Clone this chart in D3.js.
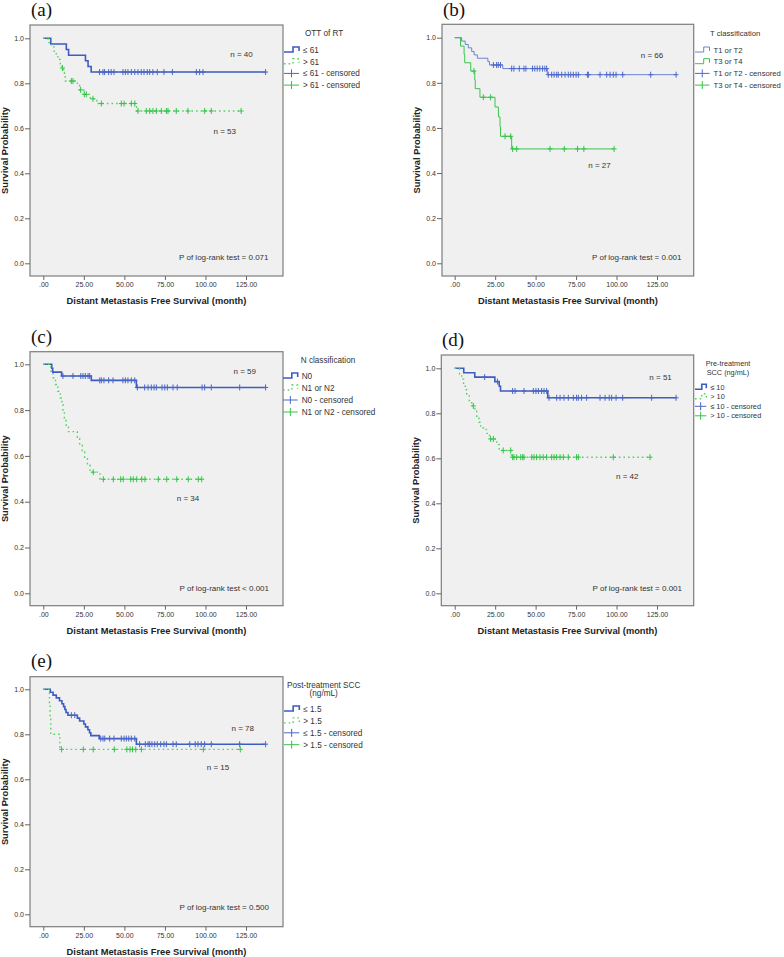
<!DOCTYPE html>
<html>
<head>
<meta charset="utf-8">
<script src="https://cdn.jsdelivr.net/npm/d3@7"></script>
<style>
  body { margin: 0; background: #fff; }
  svg { display: block; font-family: "Liberation Sans", Arial, sans-serif; }
</style>
</head>
<body>
<div id="chart"></div>
<script>
/* Kaplan-Meier curves, distant metastasis free survival, panels (a)-(e) */

// axes
var xTicks = [0, 25, 50, 75, 100, 125];
var xTickLabels = [".00", "25.00", "50.00", "75.00", "100.00", "125.00"];
var yTicks = [0, 0.2, 0.4, 0.6, 0.8, 1.0];
var yTickLabels = ["0.0", "0.2", "0.4", "0.6", "0.8", "1.0"];
var xTitle = "Distant Metastasis Free Survival (month)";
var yTitle = "Survival Probability";

// (a) OTT of RT
var aBlueT = [4.6, 14.2, 15.6, 26, 27.6, 29.5];
var aBlueS = [0.975, 0.95, 0.925, 0.9, 0.875, 0.85];
var aBlueC = [34.7, 36.8, 37.8, 40.3, 41.9, 43.6, 49.1, 50.6, 52.2, 54.3, 56.4, 58.4, 60.4, 62.1, 64.1, 65.6, 67.6, 70.3, 74.4, 79.6, 94.4, 96.4, 98.5, 137.1];
var aGreenT = [3, 5, 6.5, 8, 9, 10.5, 11.5, 12.5, 13, 13.5, 21, 22.4, 25, 29, 33, 57.5];
var aGreenS = [0.981, 0.962, 0.943, 0.925, 0.906, 0.887, 0.868, 0.848, 0.829, 0.810, 0.790, 0.771, 0.751, 0.731, 0.710, 0.677];
var aGreenC = [11.8, 17.3, 18.3, 23, 25.3, 26.5, 30.6, 35.8, 48.1, 49.8, 54.3, 56.4, 58.4, 63.5, 65.6, 67.6, 69.7, 72.8, 75.9, 76.9, 82, 89.2, 99.5, 103.6, 122];
var aLegend = ["OTT of RT"];
var aLabels = ["\u2264 61", "> 61", "\u2264 61 - censored", "> 61 - censored"];
var aN = ["n = 40", "n = 53"];
var aP = "P of log-rank test = 0.071";

// (b) T classification
var bBlueT = [4.3, 6.5, 8.4, 10.5, 12, 14, 20.5, 21.5, 29.7, 57.2];
var bBlueS = [0.985, 0.970, 0.955, 0.939, 0.924, 0.909, 0.894, 0.879, 0.863, 0.836];
var bBlueC = [23.9, 25.9, 26.9, 28.3, 35.2, 36.6, 39.9, 42.8, 44, 48.1, 49.5, 51, 52.6, 54.3, 55.7, 56.8, 57.8, 59.9, 61.4, 63, 64, 66.1, 68.2, 70.2, 71.7, 73.3, 75, 76.4, 82, 82.6, 89.8, 93.9, 96, 98, 99.7, 103.8, 121.1, 136.8];
var bGreenT = [3.6, 5.8, 6.2, 9.9, 12.4, 12.7, 15.6, 24.9, 27, 28, 28.3, 35.2];
var bGreenS = [0.963, 0.926, 0.889, 0.852, 0.813, 0.774, 0.736, 0.693, 0.649, 0.606, 0.563, 0.507];
var bGreenC = [11.9, 17.7, 22.2, 31.1, 34.6, 35.8, 38.3, 58.9, 67.7, 75.9, 79.8, 98.5];
var bLegend = ["T classification"];
var bLabels = ["T1 or T2", "T3 or T4", "T1 or T2 - censored", "T3 or T4 - censored"];
var bN = ["n = 66", "n = 27"];
var bP = "P of log-rank test = 0.001";

// (c) N classification
var cBlueT = [5.2, 5.8, 11.3, 29.6, 57.4];
var cBlueS = [0.983, 0.966, 0.949, 0.930, 0.899];
var cBlueC = [12.1, 18.3, 23.1, 24.5, 25.9, 27.6, 28.6, 34.8, 35.8, 37.4, 40.3, 43, 49.1, 50.6, 52.2, 54.3, 56.4, 58, 62.5, 64.6, 66.6, 68.3, 69.7, 73.2, 74.9, 76.5, 80, 82.6, 97.9, 99.5, 103.6, 121.1, 137.1];
var cGreenT = [4.5, 6, 7.5, 9, 10.5, 11.5, 12.1, 13, 14, 15.5, 21, 22.4, 24, 25.5, 27.2, 28.8, 35];
var cGreenS = [0.971, 0.941, 0.912, 0.882, 0.853, 0.824, 0.794, 0.765, 0.735, 0.706, 0.676, 0.647, 0.618, 0.588, 0.559, 0.529, 0.498];
var cGreenC = [30.8, 37, 43.2, 47.7, 49.3, 53.9, 55.5, 57.6, 60.7, 62.7, 70.9, 76.1, 82.3, 89.4, 95.6, 97.7];
var cLegend = ["N classification"];
var cLabels = ["N0", "N1 or N2", "N0 - censored", "N1 or N2 - censored"];
var cN = ["n = 59", "n = 34"];
var cP = "P of log-rank test < 0.001";

// (d) Pre-treatment SCC
var dBlueT = [5.6, 12.4, 24.8, 27.5, 28.3, 57.5];
var dBlueS = [0.980, 0.961, 0.941, 0.920, 0.899, 0.869];
var dBlueC = [18.5, 26.4, 35.8, 37.3, 42.8, 48.6, 50.2, 51.7, 53.7, 55.2, 56.8, 58.3, 63, 65.1, 67.5, 70.2, 73.3, 75.3, 76.4, 78.4, 81.5, 89.8, 92.9, 95.5, 97, 99.7, 103.8, 121.7, 136.8];
var dGreenT = [3, 4.3, 5.5, 6.5, 7.4, 9, 10.5, 12.5, 13.6, 15, 16, 19.5, 21.5, 26, 27.5, 35];
var dGreenS = [0.976, 0.952, 0.929, 0.905, 0.881, 0.857, 0.833, 0.809, 0.784, 0.760, 0.735, 0.711, 0.686, 0.661, 0.635, 0.605];
var dGreenC = [11.5, 22.2, 23.9, 30, 34.6, 35.8, 36.6, 38.3, 40.8, 42, 42.8, 47.6, 49, 50.6, 52.7, 54.7, 56.8, 59.9, 61.4, 63, 65.1, 67.1, 70.2, 75.3, 76.4, 98, 120.7];
var dLegend = ["Pre-treatment", "SCC (ng/mL)"];
var dLabels = ["\u2264 10", "> 10", "\u2264 10 - censored", "> 10 - censored"];
var dN = ["n = 51", "n = 42"];
var dP = "P of log-rank test = 0.001";

// (e) Post-treatment SCC
var eBlueT = [4.3, 6, 8, 10, 11.5, 12.5, 13.3, 14, 15.2, 21, 22.4, 25, 26, 27.5, 28.5, 29.3, 34.5, 57.4];
var eBlueS = [0.987, 0.974, 0.962, 0.949, 0.936, 0.923, 0.910, 0.897, 0.885, 0.872, 0.859, 0.846, 0.833, 0.820, 0.807, 0.794, 0.781, 0.756];
var eBlueC = [17.3, 19.4, 35.4, 36.8, 37.9, 40.9, 43.6, 48.1, 49.8, 51.2, 52.7, 54.3, 56.4, 59.4, 62.9, 64.6, 65.6, 67, 68.7, 70.3, 72.4, 74.4, 75.9, 80, 82, 90.3, 93.7, 95.4, 97.4, 99.5, 103.6, 121.1, 137.1];
var eGreenT = [3.8, 4.2, 4.6, 10.2];
var eGreenS = [0.933, 0.867, 0.800, 0.733];
var eGreenC = [11.3, 24.7, 30.8, 43.8, 51.5, 53.5, 55, 57, 60.5, 98.7, 121.5];
var eLegend = ["Post-treatment SCC", "(ng/mL)"];
var eLabels = ["\u2264 1.5", "> 1.5", "\u2264 1.5 - censored", "> 1.5 - censored"];
var eN = ["n = 78", "n = 15"];
var eP = "P of log-rank test = 0.500";

var blue = "#3d5cc0", blueLight = "#6c82d6", green = "#52d262", greenMark = "#33c447";

// layout of each panel (pixels) + annotation anchors (data units)
var panels = [
  { letter: "(a)", lx: 31, ly: 16, frame: [30, 25, 283, 276], xr: [43.3, 246], yr: [263.3, 38.3],
    blue: [aBlueT, aBlueS, aBlueC], green: [aGreenT, aGreenS, aGreenC], thin: false,
    title: aLegend, labels: aLabels, n: aN, p: aP,
    nPos: [[122.2, 0.929], [111.9, 0.588]], pPos: [111.3, 0.029],
    leg: { sx: 284, tx: 303, tAnchor: "start", tX: 305, tY: [33], row0: 50, dy: 11.7, fs: 8.2 } },
  { letter: "(b)", lx: 443, ly: 16, frame: [442, 24.3, 693.7, 276], xr: [454.7, 657], yr: [263.3, 37.7],
    blue: [bBlueT, bBlueS, bBlueC], green: [bGreenT, bGreenS, bGreenC], thin: true,
    title: bLegend, labels: bLabels, n: bN, p: bP,
    nPos: [[121.9, 0.923], [89.5, 0.436]], pPos: [112.5, 0.027],
    leg: { sx: 695, tx: 713.5, tAnchor: "start", tX: 710, tY: [33], row0: 50, dy: 11.7, fs: 7.7 } },
  { letter: "(c)", lx: 31, ly: 343, frame: [30, 351.7, 283, 605.7], xr: [43.3, 246], yr: [593.3, 364.3],
    blue: [cBlueT, cBlueS, cBlueC], green: [cGreenT, cGreenS, cGreenC], thin: false,
    title: cLegend, labels: cLabels, n: cN, p: cP,
    nPos: [[124.2, 0.972], [89.2, 0.415]], pPos: [111.6, 0.022],
    leg: { sx: 283, tx: 301.7, tAnchor: "start", tX: 300.7, tY: [360.3], row0: 376, dy: 12, fs: 8.2 } },
  { letter: "(d)", lx: 442, ly: 346, frame: [441.3, 355, 693.7, 605.7], xr: [454.7, 657], yr: [593.3, 368.3],
    blue: [dBlueT, dBlueS, dBlueC], green: [dGreenT, dGreenS, dGreenC], thin: false,
    title: dLegend, labels: dLabels, n: dN, p: dP,
    nPos: [[127.2, 0.96], [106.6, 0.521]], pPos: [112.8, 0.022],
    leg: { sx: 695, tx: 710.3, tAnchor: "middle", tX: 728, tY: [363.3, 372.7], row0: 387.3, dy: 9.5, fs: 7.3 } },
  { letter: "(e)", lx: 31, ly: 666.5, frame: [30, 676.7, 283, 926.7], xr: [43.3, 246], yr: [914.3, 689.3],
    blue: [eBlueT, eBlueS, eBlueC], green: [eGreenT, eGreenS, eGreenC], thin: false,
    title: eLegend, labels: eLabels, n: eN, p: eP,
    nPos: [[123, 0.829], [107.7, 0.656]], pPos: [111.6, 0.031],
    leg: { sx: 284, tx: 303.3, tAnchor: "middle", tX: 323.7, tY: [685, 693.3], row0: 709, dy: 11.9, fs: 8.2 } }
];

var svg = d3.select("#chart").append("svg")
    .attr("width", 784)
    .attr("height", 957);

// step points of a KM curve, flat to the last censored time
function stepPoints(times, surv, cens) {
  var pts = [[0, 1]];
  times.forEach(function(t, i) { pts.push([t, surv[i]]); });
  var end = Math.max(d3.max(cens), times[times.length - 1]);
  pts.push([end, surv[surv.length - 1]]);
  return pts;
}

function survAt(times, surv, t) {
  var s = 1;
  times.forEach(function(ti, i) { if (ti <= t) s = surv[i]; });
  return s;
}

function drawPanel(p) {
  var g = svg.append("g");
  var f = p.frame;

  g.append("text")
      .attr("x", p.lx).attr("y", p.ly)
      .style("font-family", "'Liberation Serif', 'DejaVu Serif', serif")
      .style("font-size", "19px")
      .attr("fill", "#111")
      .text(p.letter);

  g.append("rect")
      .attr("x", f[0]).attr("y", f[1])
      .attr("width", f[2] - f[0]).attr("height", f[3] - f[1])
      .attr("fill", "#f0f0f0")
      .attr("stroke", "#7d7d7d")
      .attr("stroke-width", 1.2);

  var x = d3.scaleLinear().domain([0, 125]).range(p.xr);
  var y = d3.scaleLinear().domain([0, 1]).range(p.yr);

  var ya = g.append("g")
      .attr("transform", "translate(" + f[0] + ",0)")
      .call(d3.axisLeft(y).tickValues(yTicks)
        .tickFormat(function(d, i) { return yTickLabels[i]; })
        .tickSize(5).tickPadding(1));
  var xa = g.append("g")
      .attr("transform", "translate(0," + f[3] + ")")
      .call(d3.axisBottom(x).tickValues(xTicks)
        .tickFormat(function(d, i) { return xTickLabels[i]; })
        .tickSize(4).tickPadding(2));
  [ya, xa].forEach(function(a) {
    a.select(".domain").remove();
    a.selectAll("line").attr("stroke", "#666");
    a.selectAll("text").attr("fill", "#333").style("font-size", "7px")
      .style("font-family", "'Liberation Sans', Arial, sans-serif");
  });

  g.append("text")
      .attr("x", (f[0] + f[2]) / 2).attr("y", f[3] + 28)
      .attr("text-anchor", "middle")
      .style("font-size", "9.3px").style("font-weight", "bold")
      .attr("fill", "#222")
      .text(xTitle);
  var cy = (f[1] + f[3]) / 2;
  g.append("text")
      .attr("transform", "translate(" + (f[0] - 22) + "," + cy + ") rotate(-90)")
      .attr("text-anchor", "middle")
      .style("font-size", "9.3px").style("font-weight", "bold")
      .attr("fill", "#222")
      .text(yTitle);

  var line = d3.line()
      .x(function(d) { return x(d[0]); })
      .y(function(d) { return y(d[1]); })
      .curve(d3.curveStepAfter);

  var styles = [
    { data: p.blue, color: p.thin ? blueLight : blue, width: p.thin ? 1 : 1.6, dash: null, mark: p.thin ? "#4d68cc" : "#4a66c6" },
    { data: p.green, color: p.thin ? "#3ec24e" : green, width: p.thin ? 1 : 1.4, dash: p.thin ? null : "1.6,3", mark: greenMark }
  ];

  styles.forEach(function(s) {
    g.append("path")
        .attr("d", line(stepPoints(s.data[0], s.data[1], s.data[2])))
        .attr("fill", "none")
        .attr("stroke", s.color)
        .attr("stroke-width", s.width)
        .attr("stroke-dasharray", s.dash);
  });

  styles.forEach(function(s) {
    g.selectAll(null)
        .data(s.data[2])
      .enter().append("path")
        .attr("d", function(t) {
          var px = x(t), py = y(survAt(s.data[0], s.data[1], t));
          return "M" + (px - 2.5) + "," + py + "H" + (px + 2.5) +
                 "M" + px + "," + (py - 3) + "V" + (py + 3);
        })
        .attr("fill", "none")
        .attr("stroke", s.mark)
        .attr("stroke-width", 1);
  });

  // n labels and p value
  p.n.forEach(function(txt, i) {
    g.append("text")
        .attr("x", x(p.nPos[i][0])).attr("y", y(p.nPos[i][1]))
        .attr("dy", "0.35em").attr("text-anchor", "middle")
        .style("font-size", "8px").attr("fill", "#333")
        .text(txt);
  });
  g.append("text")
      .attr("x", x(p.pPos[0])).attr("y", y(p.pPos[1]))
      .attr("dy", "0.35em").attr("text-anchor", "middle")
      .style("font-size", "8px").attr("fill", "#333")
      .text(p.p);

  // legend
  var L = p.leg;
  p.title.forEach(function(t, i) {
    g.append("text")
        .attr("x", L.tX).attr("y", L.tY[i])
        .attr("dy", "0.35em").attr("text-anchor", L.tAnchor)
        .style("font-size", L.fs + "px").attr("fill", "#333")
        .text(t);
  });
  p.labels.forEach(function(lab, i) {
    var ry = L.row0 + i * L.dy, sx = L.sx, sw = L.tx - L.sx - 4;
    var s = styles[i % 2];
    if (i < 2) {
      g.append("path")
          .attr("d", "M" + sx + "," + (ry + 2) + "H" + (sx + sw * 0.6) + "V" + (ry - 3) +
                     "H" + (sx + sw) + "V" + (ry + 1))
          .attr("fill", "none")
          .attr("stroke", s.color)
          .attr("stroke-width", s.width)
          .attr("stroke-dasharray", s.dash);
    } else {
      g.append("path")
          .attr("d", "M" + sx + "," + ry + "H" + (sx + sw) +
                     "M" + (sx + sw / 2) + "," + (ry - 4) + "V" + (ry + 4))
          .attr("fill", "none")
          .attr("stroke", s.mark)
          .attr("stroke-width", 1);
    }
    g.append("text")
        .attr("x", L.tx).attr("y", ry)
        .attr("dy", "0.35em")
        .style("font-size", L.fs + "px").attr("fill", "#333")
        .text(lab);
  });
}

panels.forEach(drawPanel);
</script>
</body>
</html>
